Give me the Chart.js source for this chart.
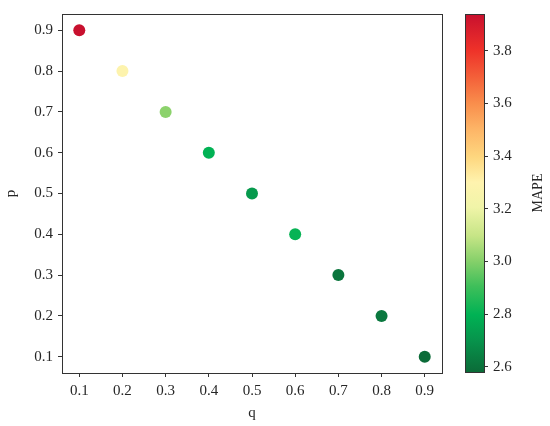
<!DOCTYPE html>
<html>
<head>
<meta charset="utf-8">
<script src="https://cdn.jsdelivr.net/npm/chart.js@4/dist/chart.umd.min.js"></script>
<style>
  html, body { margin: 0; padding: 0; background: #fff; }
  #wrap { position: relative; width: 550px; height: 426px; }
  #wrap canvas { position: absolute; left: 0; top: 0; }
</style>
</head>
<body>
<div id="wrap">
  <canvas id="mainChart" width="550" height="426"></canvas>
  <canvas id="barChart" width="550" height="426"></canvas>
</div>
<script>
// data
const qValues = [0.1, 0.2, 0.3, 0.4, 0.5, 0.6, 0.7, 0.8, 0.9];
const pValues = [0.9, 0.8, 0.7, 0.6, 0.5, 0.4, 0.3, 0.2, 0.1];
const mapeValues = [3.94, 3.29, 3.01, 2.80, 2.72, 2.81, 2.61, 2.62, 2.58];
const axisTicks = [0.1, 0.2, 0.3, 0.4, 0.5, 0.6, 0.7, 0.8, 0.9];
const mapeTicks = [2.6, 2.8, 3.0, 3.2, 3.4, 3.6, 3.8];

const mapeMin = Math.min(...mapeValues);
const mapeMax = Math.max(...mapeValues);

// reversed red-yellow-green map, sampled from the colour bar (low = green)
const cmap = [
    [0.00, '#0b6b38'], [0.09, '#07944c'], [0.16, '#00b254'], [0.24, '#3fbf5a'],
    [0.31, '#86d06a'], [0.38, '#c6e586'], [0.46, '#f0f4a8'], [0.53, '#fff3ae'],
    [0.60, '#fed77f'], [0.68, '#fdb466'], [0.75, '#f98e4c'], [0.82, '#f4623a'],
    [0.90, '#ee3129'], [1.00, '#c8102e'],
];

function hexToRgb(h) {
    return [parseInt(h.substr(1, 2), 16), parseInt(h.substr(3, 2), 16), parseInt(h.substr(5, 2), 16)];
}

function colorFor(v) {
    let t = (v - mapeMin) / (mapeMax - mapeMin);
    t = Math.max(0, Math.min(1, t));
    let i = 0;
    while (i < cmap.length - 2 && t > cmap[i + 1][0]) i++;
    const f = (t - cmap[i][0]) / (cmap[i + 1][0] - cmap[i][0]);
    const a = hexToRgb(cmap[i][1]), b = hexToRgb(cmap[i + 1][1]);
    const c = a.map((x, k) => Math.round(x + (b[k] - x) * f));
    return `rgb(${c[0]}, ${c[1]}, ${c[2]})`;
}

const font = { family: "'Liberation Serif', 'DejaVu Serif', serif", size: 15 };
const textColor = '#262626';

const framePlugin = {
    id: 'frame',
    afterDraw(chart) {
        const a = chart.chartArea;
        const ctx = chart.ctx;
        ctx.save();
        ctx.strokeStyle = '#333';
        ctx.lineWidth = 1;
        ctx.strokeRect(Math.round(a.left) + 0.5, Math.round(a.top) + 0.5,
                       Math.round(a.right - a.left), Math.round(a.bottom - a.top));
        ctx.restore();
    }
};

const points = qValues.map((q, i) => ({ x: q, y: pValues[i] }));

new Chart(document.getElementById('mainChart'), {
    type: 'scatter',
    data: {
        datasets: [{
            data: points,
            pointRadius: 6,
            pointHoverRadius: 6,
            pointBorderWidth: 0,
            pointBackgroundColor: mapeValues.map(colorFor),
        }],
    },
    options: {
        responsive: false,
        animation: false,
        events: [],
        layout: { padding: { top: 7, right: 108, left: 0, bottom: 0 } },
        plugins: { legend: { display: false }, tooltip: { enabled: false } },
        scales: {
            x: {
                min: 0.06, max: 0.94,
                afterBuildTicks: (s) => { s.ticks = axisTicks.map(v => ({ value: v })); },
                afterFit: (s) => { s.height = 53; },
                grid: { drawOnChartArea: false, tickLength: 4, tickColor: '#333' },
                border: { display: false },
                ticks: { font, color: textColor, padding: 5, maxRotation: 0,
                         callback: (v) => v.toFixed(1) },
                title: { display: true, text: 'q', font, color: textColor, padding: { top: 0, bottom: 4 } },
            },
            y: {
                min: 0.06, max: 0.94,
                afterBuildTicks: (s) => { s.ticks = axisTicks.map(v => ({ value: v })); },
                afterFit: (s) => { s.width = 62; },
                grid: { drawOnChartArea: false, tickLength: 4, tickColor: '#333' },
                border: { display: false },
                ticks: { font, color: textColor, padding: 5,
                         callback: (v) => v.toFixed(1) },
                title: { display: true, text: 'p', font, color: textColor, padding: { top: 2, bottom: 0 } },
            },
        },
    },
    plugins: [framePlugin],
});

// colorbar
const gradientPlugin = {
    id: 'gradient',
    beforeDatasetsDraw(chart) {
        const a = chart.chartArea;
        const ctx = chart.ctx;
        const ys = chart.scales.y;
        const g = ctx.createLinearGradient(0, ys.getPixelForValue(mapeMin), 0, ys.getPixelForValue(mapeMax));
        cmap.forEach(([t, c]) => g.addColorStop(t, c));
        ctx.save();
        ctx.fillStyle = g;
        ctx.fillRect(a.left, a.top, a.right - a.left, a.bottom - a.top);
        ctx.restore();
    },
    afterDraw(chart) {
        const a = chart.chartArea;
        const ctx = chart.ctx;
        ctx.save();
        ctx.fillStyle = textColor;
        ctx.font = `14px ${font.family}`;
        ctx.textAlign = 'center';
        ctx.textBaseline = 'middle';
        ctx.translate(538, (a.top + a.bottom) / 2);
        ctx.rotate(-Math.PI / 2);
        ctx.fillText('MAPE', 0, 0);
        ctx.restore();
    }
};

new Chart(document.getElementById('barChart'), {
    type: 'scatter',
    data: { datasets: [{ data: [] }] },
    options: {
        responsive: false,
        animation: false,
        events: [],
        layout: { padding: { top: 7, right: 0, left: 465, bottom: 54 } },
        plugins: { legend: { display: false }, tooltip: { enabled: false } },
        scales: {
            x: { display: false, min: 0, max: 1 },
            y: {
                position: 'right',
                min: mapeMin, max: mapeMax,
                afterBuildTicks: (s) => { s.ticks = mapeTicks.map(v => ({ value: v })); },
                afterFit: (s) => { s.width = 66; },
                grid: { drawOnChartArea: false, tickLength: 4, tickColor: '#333' },
                border: { display: false },
                ticks: { font, color: textColor, padding: 5,
                         callback: (v) => v.toFixed(1) },
            },
        },
    },
    plugins: [gradientPlugin, framePlugin],
});
</script>
</body>
</html>
